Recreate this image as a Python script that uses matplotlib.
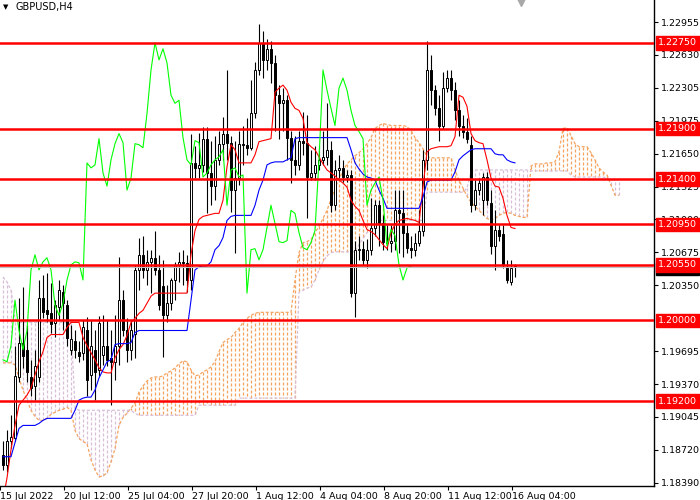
import matplotlib
matplotlib.use("Agg")
import matplotlib.pyplot as plt
from matplotlib.lines import Line2D

# ---------------- data (GBPUSD H4) ----------------
opens = [1.1867, 1.1857, 1.1881, 1.1884, 1.1944, 1.1978, 1.1971, 1.1944, 1.1935, 1.1944,
         1.2022, 1.2010, 1.2007, 1.1997, 1.2013, 1.2028, 1.2015, 1.1971, 1.1980, 1.1969,
         1.1968, 1.1990, 1.1946, 1.1971, 1.1951, 1.1966, 1.1975, 1.1963, 1.1959, 1.1975,
         1.2020, 1.1990, 1.1971, 1.1987, 1.2050, 1.2065, 1.2050, 1.2058, 1.2062, 1.2050,
         1.2034, 1.2005, 1.2017, 1.2040, 1.2055, 1.2058, 1.2057, 1.2040, 1.2156, 1.2151,
         1.2154, 1.2180, 1.2146, 1.2133, 1.2159, 1.2175, 1.2185, 1.2176, 1.2129, 1.2141,
         1.2175, 1.2174, 1.2171, 1.2205, 1.2248, 1.2275, 1.2258, 1.2269, 1.2255, 1.2223,
         1.2215, 1.2218, 1.2181, 1.2159, 1.2154, 1.2178, 1.2176, 1.2142, 1.2146, 1.2154,
         1.2159, 1.2162, 1.2169, 1.2114, 1.2149, 1.2151, 1.2142, 1.2144, 1.2027, 1.2070,
         1.2071, 1.2060, 1.2070, 1.2092, 1.2114, 1.2096, 1.2078, 1.2077, 1.2079, 1.2109,
         1.2106, 1.2087, 1.2072, 1.2070, 1.2077, 1.2089, 1.2159, 1.2248, 1.2228, 1.2210,
         1.2193, 1.2230, 1.2240, 1.2228, 1.2208, 1.2193, 1.2187, 1.2174, 1.2114, 1.2129,
         1.2119, 1.2142, 1.2116, 1.2074, 1.2090, 1.2086, 1.2053, 1.2038, 1.2053]
highs = [1.1881, 1.1891, 1.1906, 1.1975, 1.2022, 1.2033, 1.1995, 1.1961, 1.1971, 1.2040,
         1.2045, 1.2047, 1.2037, 1.2020, 1.2040, 1.2035, 1.2020, 1.1995, 1.1990, 1.1980,
         1.2000, 1.2003, 1.2000, 1.1990, 1.2004, 1.2005, 1.2000, 1.1990, 1.2005, 1.2063,
         1.2030, 1.2002, 1.2000, 1.2055, 1.2082, 1.2084, 1.2070, 1.2070, 1.2089, 1.2065,
         1.2060, 1.2035, 1.2042, 1.2058, 1.2068, 1.2070, 1.2065, 1.2185, 1.2173, 1.2186,
         1.2192, 1.2192, 1.2178, 1.2183, 1.2188, 1.2201, 1.2248, 1.2183, 1.2178, 1.2188,
         1.2193, 1.2200, 1.2238, 1.2256, 1.2294, 1.2287, 1.2279, 1.2277, 1.2263, 1.2233,
         1.2230, 1.2223, 1.2188, 1.2183, 1.2188, 1.2206, 1.2203, 1.2169, 1.2173, 1.2173,
         1.2188, 1.2215, 1.2178, 1.2159, 1.2164, 1.2159, 1.2149, 1.2149, 1.2079, 1.2084,
         1.2079, 1.2081, 1.2121, 1.2119, 1.2119, 1.2104, 1.2094, 1.2094, 1.2129, 1.2129,
         1.2129, 1.2094, 1.2084, 1.2087, 1.2109, 1.2169, 1.2277, 1.2263, 1.2233, 1.2223,
         1.2246, 1.2248, 1.2248, 1.2236, 1.2218, 1.2203, 1.2200, 1.2183, 1.2139, 1.2141,
         1.2146, 1.2147, 1.2129, 1.2109, 1.2094, 1.2094, 1.2060, 1.2060, 1.2056]
lows = [1.1852, 1.1850, 1.1874, 1.1881, 1.1939, 1.1953, 1.1939, 1.1925, 1.1921, 1.1939,
        1.2002, 1.1998, 1.1988, 1.1984, 1.2000, 1.1990, 1.1975, 1.1966, 1.1963, 1.1959,
        1.1961, 1.1925, 1.1931, 1.1921, 1.1945, 1.1956, 1.1955, 1.1916, 1.1941, 1.1956,
        1.1985, 1.1959, 1.1961, 1.1963, 1.2030, 1.2042, 1.2035, 1.2027, 1.2045, 1.2010,
        1.1964, 1.1998, 1.2010, 1.2020, 1.2038, 1.2035, 1.2028, 1.2030, 1.2141, 1.2141,
        1.2147, 1.2106, 1.2114, 1.2119, 1.2154, 1.2159, 1.2159, 1.2107, 1.2067, 1.2134,
        1.2154, 1.2164, 1.2169, 1.2200, 1.2243, 1.2240, 1.2248, 1.2235, 1.2188, 1.2180,
        1.2188, 1.2159, 1.2136, 1.2144, 1.2149, 1.2164, 1.2101, 1.2139, 1.2139, 1.2149,
        1.2154, 1.2154, 1.2107, 1.2109, 1.2141, 1.2137, 1.2137, 1.2023, 1.2003, 1.2060,
        1.2055, 1.2052, 1.2065, 1.2084, 1.2074, 1.2070, 1.2070, 1.2068, 1.2070, 1.2067,
        1.2063, 1.2067, 1.2062, 1.2064, 1.2074, 1.2084, 1.2149, 1.2213, 1.2203, 1.2178,
        1.2190, 1.2226, 1.2218, 1.2198, 1.2183, 1.2181, 1.2176, 1.2107, 1.2109, 1.2124,
        1.2104, 1.2114, 1.2066, 1.2050, 1.2079, 1.2052, 1.2037, 1.2035, 1.2043]
closes = [1.1857, 1.1881, 1.1885, 1.1945, 1.1978, 1.1965, 1.1949, 1.1933, 1.1955, 1.2022,
          1.2008, 1.2006, 1.1996, 1.2015, 1.2030, 1.2017, 1.1983, 1.1982, 1.1971, 1.1965,
          1.1993, 1.1941, 1.1975, 1.1949, 1.1997, 1.1975, 1.1961, 1.1959, 1.1975, 1.2020,
          1.1990, 1.1971, 1.1990, 1.2050, 1.2065, 1.2050, 1.2058, 1.2062, 1.2050, 1.2015,
          1.2005, 1.2017, 1.2040, 1.2055, 1.2058, 1.2057, 1.2040, 1.2156, 1.2151, 1.2154,
          1.2180, 1.2146, 1.2133, 1.2159, 1.2175, 1.2185, 1.2176, 1.2129, 1.2141, 1.2175,
          1.2174, 1.2171, 1.2205, 1.2248, 1.2275, 1.2258, 1.2269, 1.2255, 1.2223, 1.2215,
          1.2218, 1.2181, 1.2159, 1.2154, 1.2178, 1.2176, 1.2142, 1.2146, 1.2154, 1.2159,
          1.2162, 1.2169, 1.2114, 1.2149, 1.2151, 1.2142, 1.2144, 1.2027, 1.2070, 1.2071,
          1.2060, 1.2070, 1.2092, 1.2114, 1.2096, 1.2078, 1.2077, 1.2079, 1.2109, 1.2106,
          1.2087, 1.2072, 1.2070, 1.2077, 1.2089, 1.2159, 1.2248, 1.2228, 1.2210, 1.2193,
          1.2230, 1.2240, 1.2228, 1.2208, 1.2193, 1.2187, 1.2180, 1.2114, 1.2129, 1.2136,
          1.2142, 1.2119, 1.2074, 1.2090, 1.2084, 1.2055, 1.2040, 1.2052, 1.2054]

tenkan = [1.1822, 1.1844, 1.1872, 1.1896, 1.1916, 1.1921, 1.1926, 1.1933, 1.1946, 1.1959,
          1.1969, 1.1983, 1.1986, 1.1986, 1.1986, 1.1986, 1.1993, 1.1998, 1.1998, 1.1998,
          1.1983, 1.1975, 1.1968, 1.1961, 1.1953, 1.1949, 1.1948, 1.1948, 1.1963, 1.1971,
          1.1976, 1.1985, 1.1998, 1.2002, 1.2007, 1.2010, 1.2017, 1.2024, 1.2027, 1.2027,
          1.2027, 1.2027, 1.2027, 1.2027, 1.2027, 1.2027, 1.2027, 1.2065, 1.2089, 1.2100,
          1.2103, 1.2104, 1.2105, 1.2106, 1.2106, 1.2119, 1.2152, 1.2174, 1.2169, 1.2156,
          1.2156, 1.2156, 1.2156, 1.2164, 1.2177, 1.2178, 1.2179, 1.2180, 1.2226, 1.2230,
          1.2233, 1.2228, 1.2216, 1.2210, 1.2208, 1.2200, 1.2176, 1.2172, 1.2169, 1.2162,
          1.2155, 1.2149, 1.2146, 1.2143, 1.2139, 1.2136, 1.2132, 1.2119, 1.2113, 1.2109,
          1.2099, 1.2090, 1.2088, 1.2085, 1.2080, 1.2075, 1.2071, 1.2087, 1.2095, 1.2099,
          1.2100, 1.2101, 1.2100, 1.2099, 1.2097, 1.2132, 1.2167, 1.2170, 1.2171, 1.2172,
          1.2172, 1.2172, 1.2173, 1.2182, 1.2223, 1.2221, 1.2212, 1.2185, 1.2178, 1.2176,
          1.2175, 1.2159, 1.2141, 1.2133, 1.2132, 1.2121, 1.2104, 1.2092, 1.2091]
kijun = [1.1865, 1.1865, 1.1865, 1.1879, 1.1893, 1.1896, 1.1896, 1.1896, 1.1896, 1.1898,
         1.1901, 1.1903, 1.1903, 1.1903, 1.1903, 1.1903, 1.1903, 1.1903, 1.1911, 1.1921,
         1.1923, 1.1924, 1.1924, 1.1931, 1.1943, 1.1951, 1.1959, 1.1961, 1.1976, 1.1977,
         1.1977, 1.1977, 1.1978, 1.1988, 1.1990, 1.1990, 1.1990, 1.1990, 1.1990, 1.1990,
         1.1990, 1.1990, 1.1990, 1.1990, 1.1990, 1.1990, 1.1990, 1.2020, 1.2050, 1.2053,
         1.2054, 1.2054, 1.2058, 1.2070, 1.2074, 1.2082, 1.2099, 1.2103, 1.2104, 1.2104,
         1.2104, 1.2104, 1.2104, 1.2114, 1.2129, 1.2139, 1.2154, 1.2156, 1.2157, 1.2157,
         1.2157, 1.2159, 1.2161, 1.2180, 1.2181, 1.2181, 1.2181, 1.2181, 1.2181, 1.2181,
         1.2181, 1.2181, 1.2181, 1.2181, 1.2181, 1.2181, 1.2181, 1.2169, 1.2156, 1.2150,
         1.2145, 1.2142, 1.2141, 1.2139, 1.2129, 1.2121, 1.2111, 1.2111, 1.2111, 1.2111,
         1.2111, 1.2111, 1.2111, 1.2111, 1.2111, 1.2122, 1.2137, 1.2139, 1.2139, 1.2139,
         1.2139, 1.2139, 1.2139, 1.2147, 1.2159, 1.2163, 1.2166, 1.2169, 1.2170, 1.2170,
         1.2170, 1.2170, 1.2170, 1.2165, 1.2164, 1.2164, 1.2159, 1.2157, 1.2156]

span_a = [1.1958, 1.1958, 1.1958, 1.1956, 1.1943, 1.1931, 1.1921, 1.1911, 1.1905, 1.1901,
          1.1901, 1.1903, 1.1907, 1.1909, 1.1911, 1.1912, 1.1914, 1.1911, 1.1891, 1.1883,
          1.1880, 1.1878, 1.1862, 1.1852, 1.1845, 1.1846, 1.1849, 1.1860, 1.1873, 1.1896,
          1.1904, 1.1908, 1.1913, 1.1918, 1.1929, 1.1935, 1.1940, 1.1943, 1.1944, 1.1944,
          1.1945, 1.1948, 1.1950, 1.1953, 1.1957, 1.1960, 1.1959, 1.1951, 1.1945, 1.1946,
          1.1949, 1.1951, 1.1954, 1.1959, 1.1969, 1.1978, 1.1981, 1.1983, 1.1988, 1.1992,
          1.1998, 1.2002, 1.2005, 1.2007, 1.2008, 1.2008, 1.2008, 1.2008, 1.2008, 1.2008,
          1.2008, 1.2008, 1.2008, 1.2040, 1.2067, 1.2077, 1.2078, 1.2080, 1.2087, 1.2093,
          1.2101, 1.2109, 1.2120, 1.2131, 1.2140, 1.2148, 1.2155, 1.2159, 1.2163, 1.2166,
          1.2170, 1.2175, 1.2181, 1.2190, 1.2193, 1.2195, 1.2194, 1.2193, 1.2193, 1.2193,
          1.2193, 1.2192, 1.2188, 1.2181, 1.2176, 1.2170, 1.2162, 1.2161, 1.2161, 1.2161,
          1.2161, 1.2161, 1.2161, 1.2149, 1.2139, 1.2131, 1.2123, 1.2117, 1.2113, 1.2109,
          1.2105, 1.2101, 1.2099, 1.2101, 1.2104, 1.2106, 1.2107, 1.2106, 1.2104, 1.2103,
          1.2102, 1.2102, 1.2153, 1.2155, 1.2155, 1.2155, 1.2156, 1.2156, 1.2157, 1.2167,
          1.2190, 1.2191, 1.2183, 1.2175, 1.2172, 1.2172, 1.2172, 1.2166, 1.2159, 1.2151,
          1.2147, 1.2144, 1.2134, 1.2124, 1.2124]
span_b = [1.2043, 1.2038, 1.2030, 1.2002, 1.1998, 1.1998, 1.1998, 1.1998, 1.1998, 1.1998,
          1.1998, 1.1998, 1.1998, 1.1998, 1.1998, 1.1998, 1.1998, 1.1998, 1.1913, 1.1911,
          1.1911, 1.1911, 1.1911, 1.1911, 1.1911, 1.1911, 1.1911, 1.1911, 1.1911, 1.1911,
          1.1911, 1.1911, 1.1911, 1.1908, 1.1906, 1.1906, 1.1906, 1.1906, 1.1906, 1.1906,
          1.1906, 1.1906, 1.1906, 1.1906, 1.1906, 1.1906, 1.1906, 1.1906, 1.1906, 1.1916,
          1.1916, 1.1916, 1.1916, 1.1916, 1.1916, 1.1916, 1.1916, 1.1916, 1.1916, 1.1923,
          1.1923, 1.1923, 1.1923, 1.1923, 1.1923, 1.1923, 1.1923, 1.1923, 1.1923, 1.1923,
          1.1923, 1.1923, 1.1923, 1.1923, 1.2028, 1.2030, 1.2032, 1.2033, 1.2040, 1.2050,
          1.2058, 1.2064, 1.2067, 1.2068, 1.2068, 1.2068, 1.2068, 1.2068, 1.2068, 1.2075,
          1.2081, 1.2087, 1.2089, 1.2091, 1.2099, 1.2099, 1.2099, 1.2099, 1.2099, 1.2099,
          1.2099, 1.2099, 1.2099, 1.2099, 1.2099, 1.2099, 1.2127, 1.2127, 1.2127, 1.2127,
          1.2127, 1.2127, 1.2127, 1.2127, 1.2127, 1.2127, 1.2131, 1.2147, 1.2149, 1.2149,
          1.2149, 1.2149, 1.2149, 1.2149, 1.2149, 1.2149, 1.2149, 1.2149, 1.2149, 1.2149,
          1.2149, 1.2149, 1.2148, 1.2148, 1.2148, 1.2148, 1.2148, 1.2148, 1.2148, 1.2148,
          1.2148, 1.2148, 1.2144, 1.2142, 1.2142, 1.2142, 1.2142, 1.2142, 1.2142, 1.2142,
          1.2142, 1.2141, 1.2139, 1.2139, 1.2139]

levels = [1.2275, 1.2190, 1.2140, 1.2095, 1.2055, 1.2000, 1.1920]
bid_price = 1.2053
chikou_shift = 26
y_ticks = [1.22955, 1.22630, 1.22305, 1.21975, 1.21650, 1.21325, 1.21000, 1.20675,
           1.20350, 1.19695, 1.19370, 1.19045, 1.18720, 1.18390]
x_tick_bars = [0, 16, 32, 48, 64, 80, 96, 112, 128]
x_tick_labels = ["15 Jul 2022", "20 Jul 12:00", "25 Jul 04:00", "27 Jul 20:00",
                 "1 Aug 12:00", "4 Aug 04:00", "8 Aug 20:00", "11 Aug 12:00",
                 "16 Aug 04:00"]
title = "GBPUSD,H4"

# ---------------- drawing ----------------
plt.rcParams['lines.scale_dashes'] = False
FONT = "DejaVu Sans"
fig = plt.figure(figsize=(7, 5), dpi=100)
fig.patch.set_facecolor("white")
W, H = 700, 500
ax = fig.add_axes([0, 14 / H, 654 / W, 486 / H])
ax.set_facecolor("white")

n = len(closes)
xs = list(range(n))
ax.set_xlim(-0.75, 162.75)
ax.set_ylim(1.18360, 1.23173)

SANDY = "#F4A460"
THISTLE = "#D8BFD8"
dot = (0, (2.2, 1.4))

# Ichimoku cloud hatching (one dotted vertical per bar)
cx = list(range(len(span_a)))
for j in cx:
    col = SANDY if span_a[j] >= span_b[j] else THISTLE
    ax.plot([j, j], [span_a[j], span_b[j]], color=col, linestyle=dot,
            linewidth=0.9, zorder=1, solid_capstyle="butt", dash_capstyle="butt")
ax.plot(cx, span_a, color=SANDY, linestyle=dot, linewidth=0.9, zorder=1.2)
ax.plot(cx, span_b, color=THISTLE, linestyle=dot, linewidth=0.9, zorder=1.2)

# candles
ax.vlines(xs, lows, highs, colors="black", linewidth=0.8, zorder=2)
for i in xs:
    o, c = opens[i], closes[i]
    fc = "white" if c >= o else "black"
    ax.bar(i, abs(c - o), bottom=min(o, c), width=0.55, color=fc,
           edgecolor="black", linewidth=0.7, zorder=2.2)

# Ichimoku lines
ax.plot(xs, tenkan, color="#FF0000", linewidth=0.8, zorder=3)
ax.plot(xs, kijun, color="#0000FF", linewidth=0.8, zorder=3)
ax.plot([i - chikou_shift for i in xs[chikou_shift:]], closes[chikou_shift:],
        color="#00FF00", linewidth=0.8, zorder=3)

# bid line
ax.axhline(bid_price, color="#C0C0C0", linewidth=0.8, zorder=3.5)

# horizontal levels
for lv in levels:
    ax.axhline(lv, color="#FF0000", linewidth=1.8, zorder=4)

# axes styling
for s in ["top", "left"]:
    ax.spines[s].set_visible(False)
for s in ["right", "bottom"]:
    ax.spines[s].set_color("black")
    ax.spines[s].set_linewidth(1.0)
ax.yaxis.tick_right()
ax.set_yticks(y_ticks)
ax.set_yticklabels([f"{v:.5f}" for v in y_ticks], fontsize=6.8, family=FONT)
ax.tick_params(axis="y", direction="out", length=3, width=0.8, pad=2, colors="black")
ax.set_xticks([b - 0.75 for b in x_tick_bars])
ax.set_xticklabels(x_tick_labels, fontsize=6.8, family=FONT, ha="left")
ax.tick_params(axis="x", direction="out", length=3, width=0.8, pad=1, colors="black")

# price labels on right axis
ax.annotate(f"{bid_price:.5f}", xy=(1.0, bid_price - 0.0002), xycoords=("axes fraction", "data"),
            xytext=(3, 0), textcoords="offset points", va="center", ha="left",
            fontsize=6.8, family=FONT, color="white", annotation_clip=False,
            bbox=dict(boxstyle="square,pad=0.2", fc="black", ec="black"), zorder=9)
for lv in levels:
    ax.annotate(f"{lv:.5f}", xy=(1.0, lv), xycoords=("axes fraction", "data"),
                xytext=(3, 0), textcoords="offset points", va="center", ha="left",
                fontsize=6.8, family=FONT, color="white", annotation_clip=False,
                bbox=dict(boxstyle="square,pad=0.25", fc="#FF0000", ec="#FF0000"),
                zorder=10)

# title
fig.text(3 / W, 1 - 7 / H, "\u25BC", fontsize=5, family=FONT, color="black",
         va="center", ha="left")
fig.text(15 / W, 1 - 7 / H, title, fontsize=7, family=FONT, color="black",
         va="center", ha="left")
# chart-shift marker
fig.add_artist(Line2D([521 / W], [1 - 1 / H], marker="v", markersize=7,
                      color="#A8A8A8", transform=fig.transFigure))

fig.savefig("out.png", dpi=100, facecolor="white")
